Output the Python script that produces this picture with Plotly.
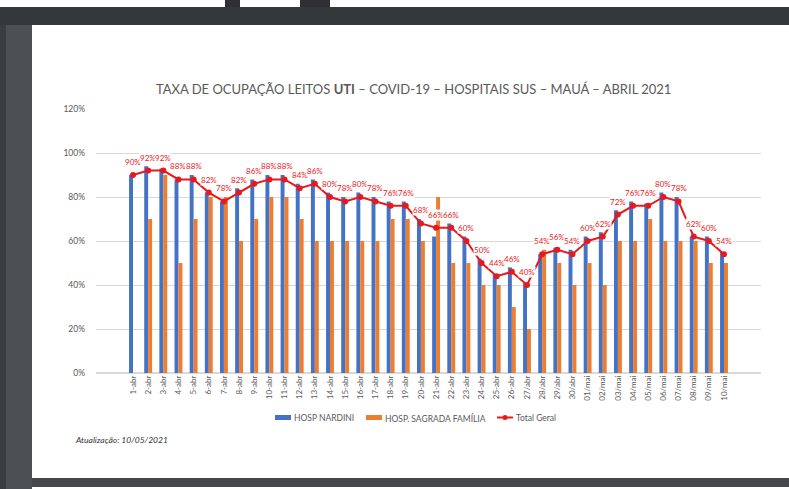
import plotly.graph_objects as go

categories = ["1-abr", "2-abr", "3-abr", "4-abr", "5-abr", "6-abr", "7-abr", "8-abr", "9-abr", "10-abr",
              "11-abr", "12-abr", "13-abr", "14-abr", "15-abr", "16-abr", "17-abr", "18-abr", "19-abr", "20-abr",
              "21-abr", "22-abr", "23-abr", "24-abr", "25-abr", "26-abr", "27/abr", "28/abr", "29/abr", "30/abr",
              "01/mai", "02/mai", "03/mai", "04/mai", "05/mai", "06/mai", "07/mai", "08/mai", "09/mai", "10/mai"]

hosp_nardini = [90, 94, 93, 88, 90, 82, 78, 84, 88, 90,
                90, 86, 88, 82, 80, 82, 80, 78, 78, 70,
                62, 68, 62, 52, 45, 48, 41, 54, 57, 56,
                62, 64, 74, 78, 77, 82, 80, 62, 62, 55]

hosp_sagrada = [0, 70, 90, 50, 70, 80, 80, 60, 70, 80,
                80, 70, 60, 60, 60, 60, 60, 70, 70, 60,
                80, 50, 50, 40, 40, 30, 20, 56, 50, 40,
                50, 40, 60, 60, 70, 60, 60, 60, 50, 50]

total_geral = [90, 92, 92, 88, 88, 82, 78, 82, 86, 88,
               88, 84, 86, 80, 78, 80, 78, 76, 76, 68,
               66, 66, 60, 50, 44, 46, 40, 54, 56, 54,
               60, 62, 72, 76, 76, 80, 78, 62, 60, 54]

y_ticks = [0, 20, 40, 60, 80, 100, 120]

W, H = 789, 489
L, R, T, B = 96, 761, 109, 373

BLUE = "#4472c4"
ORANGE = "#ed7d31"
RED = "#e8191c"
GRAY = "#595959"
FONT = "Lato, Roboto, sans-serif"


def px(x):
    return (x - L) / (R - L)


def py(y):
    return (B - y) / (B - T)


fig = go.Figure()
fig.add_trace(go.Bar(x=categories, y=hosp_nardini, name="HOSP NARDINI",
                     marker=dict(color=BLUE, line=dict(width=0))))
fig.add_trace(go.Bar(x=categories, y=hosp_sagrada, name="HOSP. SAGRADA FAMÍLIA",
                     marker=dict(color=ORANGE, line=dict(width=0))))
fig.add_trace(go.Scatter(x=categories, y=total_geral, name="Total Geral", mode="lines+markers",
                         line=dict(color=RED, width=2), marker=dict(color=RED, size=6)))

shapes = []


def rect(x0, y0, x1, y1, color, layer="below"):
    shapes.append(dict(type="rect", xref="paper", yref="paper",
                       x0=px(x0), x1=px(x1), y0=py(y0), y1=py(y1),
                       fillcolor=color, line=dict(width=0), layer=layer))


# page frame
rect(0, 7, W, 25, "#35383b")
rect(0, 25, 32, H, "#4d5053")
rect(0, 25, 6, H, "#3a3d40")
rect(32, 478, W, 487, "#45484b")
rect(225, 0, 240, 7, "#2e3033")
rect(300, 0, 330, 7, "#2e3033")

annotations = []

# data labels
for c, v in zip(categories, total_geral):
    annotations.append(dict(x=c, y=v, xref="x", yref="y", text=f"{v}%", showarrow=False,
                            yshift=13, font=dict(family=FONT, size=8, color=RED),
                            bgcolor="white", borderpad=0))

# title
annotations.append(dict(xref="paper", yref="paper", x=px(413), y=py(89), xanchor="center", yanchor="middle",
                        showarrow=False,
                        text="TAXA DE OCUPAÇÃO LEITOS <b>UTI</b> – COVID-19 – HOSPITAIS SUS – MAUÁ – ABRIL 2021",
                        font=dict(family=FONT, size=13, color=GRAY)))

# custom legend
rect(275, 415, 291, 420, BLUE, layer="above")
rect(366, 415, 382, 420, ORANGE, layer="above")
shapes.append(dict(type="line", xref="paper", yref="paper", x0=px(497), x1=px(513), y0=py(417.5), y1=py(417.5),
                   line=dict(color=RED, width=2)))
shapes.append(dict(type="circle", xref="paper", yref="paper", x0=px(502.5), x1=px(507.5), y0=py(415), y1=py(420),
                   fillcolor=RED, line=dict(width=0)))
for x0, t in [(292, "HOSP NARDINI"), (383, "HOSP. SAGRADA FAMÍLIA"), (514, "Total Geral")]:
    annotations.append(dict(xref="paper", yref="paper", x=px(x0), y=py(418), xanchor="left", yanchor="middle",
                            showarrow=False, text=t, font=dict(family=FONT, size=8.5, color=GRAY)))

annotations.append(dict(xref="paper", yref="paper", x=px(73), y=py(440), xanchor="left", yanchor="middle",
                        showarrow=False, text="<i>Atualização: 10/05/2021</i>",
                        font=dict(family=FONT, size=8.5, color="#333333")))

fig.update_layout(
    width=W, height=H,
    margin=dict(l=L, r=W - R, t=T, b=H - B, pad=0),
    paper_bgcolor="white", plot_bgcolor="white",
    barmode="group", bargap=0.48, bargroupgap=0,
    showlegend=False,
    shapes=shapes, annotations=annotations,
    font=dict(family=FONT, color=GRAY),
)
fig.update_xaxes(type="category", tickangle=-90, tickfont=dict(family=FONT, size=8, color=GRAY),
                 showgrid=False, showline=False, ticks="")
fig.update_yaxes(range=[0, 120], tickvals=y_ticks, ticktext=[f"{v}%" for v in y_ticks],
                 tickfont=dict(family=FONT, size=8.5, color=GRAY), gridcolor="#d9d9d9", gridwidth=1,
                 zeroline=True, zerolinecolor="#d9d9d9", ticks="", ticklabelstandoff=10, showline=False)

fig.write_html("out.html", config={"displayModeBar": False},
               post_script="document.body.style.margin='0';document.body.style.overflow='hidden';")
